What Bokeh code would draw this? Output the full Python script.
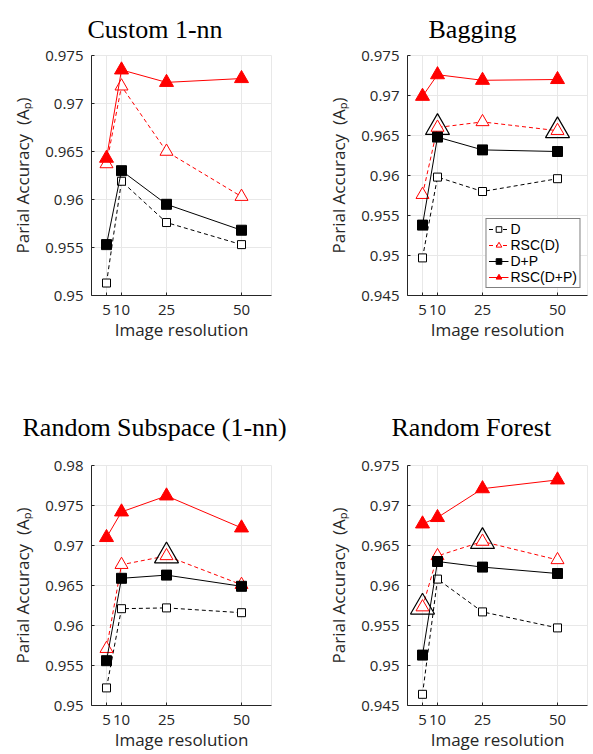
from bokeh.plotting import figure
from bokeh.layouts import gridplot
from bokeh.models import FixedTicker, CustomJSTickFormatter, Range1d
from bokeh.embed import file_html
from bokeh.resources import INLINE

# ---------------- data ----------------
resolutions = [5, 10, 25, 50]
x_ticks = [5, 10, 25, 50]

titles = ["Custom 1-nn", "Bagging", "Random Subspace (1-nn)", "Random Forest"]
series_names = ["D", "RSC(D)", "D+P", "RSC(D+P)"]

custom_D = [0.9513, 0.9619, 0.9576, 0.9553]
custom_RSC_D = [0.9637, 0.9718, 0.9650, 0.9603]
custom_DP = [0.9553, 0.9630, 0.9595, 0.9568]
custom_RSC_DP = [0.9643, 0.9735, 0.9722, 0.9726]

bagging_D = [0.9497, 0.9598, 0.9580, 0.9596]
bagging_RSC_D = [0.9576, 0.9660, 0.9667, 0.9656]
bagging_DP = [0.9538, 0.9648, 0.9632, 0.9630]
bagging_RSC_DP = [0.9699, 0.9726, 0.9719, 0.9720]

subspace_D = [0.9522, 0.9621, 0.9622, 0.9616]
subspace_RSC_D = [0.9571, 0.9676, 0.9687, 0.9651]
subspace_DP = [0.9556, 0.9659, 0.9663, 0.9649]
subspace_RSC_DP = [0.9710, 0.9742, 0.9762, 0.9722]

forest_D = [0.9464, 0.9608, 0.9567, 0.9547]
forest_RSC_D = [0.9573, 0.9637, 0.9655, 0.9632]
forest_DP = [0.9513, 0.9630, 0.9623, 0.9615]
forest_RSC_DP = [0.9677, 0.9685, 0.9721, 0.9732]

# indices (into resolutions) of the best RSC(D) results marked with a big black triangle
custom_best = []
bagging_best = [1, 3]
subspace_best = [2]
forest_best = [0, 2]

custom_yticks = [0.95, 0.955, 0.96, 0.965, 0.97, 0.975]
bagging_yticks = [0.945, 0.95, 0.955, 0.96, 0.965, 0.97, 0.975]
subspace_yticks = [0.95, 0.955, 0.96, 0.965, 0.97, 0.975, 0.98]
forest_yticks = [0.945, 0.95, 0.955, 0.96, 0.965, 0.97, 0.975]

# ---------------- style ----------------
SANS = "Open Sans"
LEG_FONT = "Liberation Sans"
SERIF = "Liberation Serif"
AXIS_COL = "#262626"
GRID_COL = "#e8e8e8"
RED = "#ff0000"
FRAME_W = 180
FRAME_H = 240


def make_panel(title, title_offset, title_standoff, D, RSC_D, DP, RSC_DP, yticks,
               best, legend, b_left, b_right, b_top, b_bottom):
    p = figure(frame_width=FRAME_W, frame_height=FRAME_H,
               min_border_left=b_left, min_border_right=b_right,
               min_border_top=b_top, min_border_bottom=b_bottom,
               x_range=Range1d(0, 60), y_range=Range1d(yticks[0], yticks[-1]),
               output_backend="svg", toolbar_location=None, tools="")
    p.title.text = title
    p.title.text_font = SERIF
    p.title.text_font_size = "26px"
    p.title.text_font_style = "normal"
    p.title.text_color = "black"
    p.title.align = "left"
    p.title.offset = title_offset
    p.title.standoff = title_standoff

    p.outline_line_color = GRID_COL
    p.background_fill_color = "white"
    p.border_fill_color = "white"

    for ax in (p.xaxis[0], p.yaxis[0]):
        ax.axis_line_color = AXIS_COL
        ax.axis_line_width = 1
        ax.major_tick_line_color = AXIS_COL
        ax.major_tick_in = 3
        ax.major_tick_out = 0
        ax.minor_tick_line_color = None
        ax.major_label_text_font = SANS
        ax.major_label_text_font_size = "15px"
        ax.major_label_text_color = AXIS_COL
        ax.axis_label_text_font = SANS
        ax.axis_label_text_font_size = "17px"
        ax.axis_label_text_font_style = "normal"
        ax.axis_label_text_color = AXIS_COL

    p.xaxis.ticker = FixedTicker(ticks=x_ticks)
    p.xaxis.axis_label = "Image resolution"
    p.xaxis.major_label_standoff = 9
    p.xaxis.axis_label_standoff = 0

    p.yaxis.ticker = FixedTicker(ticks=yticks)
    p.yaxis.formatter = CustomJSTickFormatter(code="return String(parseFloat(tick.toFixed(4)));")
    p.yaxis.axis_label = "Parial Accuracy\u00a0\u00a0(A\u209a)"
    p.yaxis.major_label_standoff = 8
    p.yaxis.axis_label_standoff = 8

    p.xgrid.ticker = FixedTicker(ticks=x_ticks)
    p.ygrid.ticker = FixedTicker(ticks=yticks)
    p.xgrid.grid_line_color = GRID_COL
    p.ygrid.grid_line_color = GRID_COL

    def lg(i):
        return {"legend_label": series_names[i]} if legend else {}

    # D : dashed black, open squares
    p.line(resolutions, D, line_color="black", line_width=1, line_dash="4 3", **lg(0))
    p.scatter(resolutions, D, marker="square", size=8, line_color="black",
              fill_color="white", line_width=1, **lg(0))
    # RSC(D) : dashed red, open triangles
    p.line(resolutions, RSC_D, line_color=RED, line_width=1, line_dash="4 3", **lg(1))
    p.scatter(resolutions, RSC_D, marker="triangle", size=13, line_color=RED,
              fill_color="white", line_width=1, **lg(1))
    # best results highlighted
    if best:
        p.scatter([resolutions[i] for i in best], [RSC_D[i] for i in best],
                  marker="triangle", size=24, line_color="black", fill_color=None,
                  line_width=1.2)
    # D+P : solid black, filled squares
    p.line(resolutions, DP, line_color="black", line_width=1, **lg(2))
    p.scatter(resolutions, DP, marker="square", size=10, line_color="black",
              fill_color="black", **lg(2))
    # RSC(D+P) : solid red, filled triangles
    p.line(resolutions, RSC_DP, line_color=RED, line_width=1, **lg(3))
    p.scatter(resolutions, RSC_DP, marker="triangle", size=14, line_color=RED,
              fill_color=RED, **lg(3))

    if legend:
        lgd = p.legend[0]
        lgd.location = "bottom_right"
        lgd.border_line_color = "black"
        lgd.border_line_width = 1
        lgd.background_fill_color = "white"
        lgd.background_fill_alpha = 1
        lgd.label_text_font = LEG_FONT
        lgd.label_text_font_size = "14px"
        lgd.label_text_color = "black"
        lgd.label_height = 14
        lgd.glyph_height = 14
        lgd.glyph_width = 20
        lgd.label_standoff = 2
        lgd.spacing = 0
        lgd.padding = 2
        lgd.margin = 7
    return p


f1 = make_panel(titles[0], -4, 23, custom_D, custom_RSC_D, custom_DP, custom_RSC_DP,
                custom_yticks, custom_best, False, 91, 29, 55, 90)
f2 = make_panel(titles[1], 21, 23, bagging_D, bagging_RSC_D, bagging_DP, bagging_RSC_DP,
                bagging_yticks, bagging_best, True, 107, 6, 55, 90)
f3 = make_panel(titles[2], -69, 48, subspace_D, subspace_RSC_D, subspace_DP, subspace_RSC_DP,
                subspace_yticks, subspace_best, False, 91, 29, 80, 48)
f4 = make_panel(titles[3], -16, 48, forest_D, forest_RSC_D, forest_DP, forest_RSC_DP,
                forest_yticks, forest_best, False, 107, 6, 80, 48)

grid = gridplot([[f1, f2], [f3, f4]], toolbar_location=None)

open("out.html", "w").write(file_html(grid, INLINE))
